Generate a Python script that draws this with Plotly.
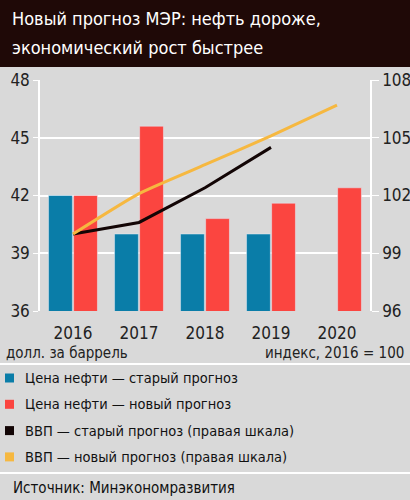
import plotly.graph_objects as go

# данные
years = ["2016", "2017", "2018", "2019", "2020"]
oil_old = [42.0, 40.0, 40.0, 40.0, None]
oil_new = [42.0, 45.6, 40.8, 41.6, 42.4]
gdp_old = [100.0, 100.6, 102.4, 104.5, None]
gdp_new = [100.0, 102.1, 103.6, 105.1, 106.7]

left_ticks = [36, 39, 42, 45, 48]
right_ticks = [96, 99, 102, 105, 108]

names = ["Цена нефти — старый прогноз", "Цена нефти — новый прогноз",
         "ВВП — старый прогноз (правая шкала)", "ВВП — новый прогноз (правая шкала)"]
title_lines = ["Новый прогноз МЭР: нефть дороже,", "экономический рост быстрее"]

blue = "#0a7da8"
red = "#fb4540"
black = "#120505"
yellow = "#f6b840"
bg = "#d9d9d9"
fnt = "Liberation Sans Narrow, DejaVu Sans Condensed, Roboto, sans-serif"

H = 231  # высота области графика в пикселях
def py(px):
    # пиксель по вертикали -> координата paper
    return (311 - px) / H

def px_x(px):
    return (px - 40) / 330

fig = go.Figure()
fig.add_trace(go.Bar(x=years, y=oil_old, marker_color=blue, name=names[0]))
fig.add_trace(go.Bar(x=years, y=oil_new, marker_color=red, name=names[1]))
fig.add_trace(go.Scatter(x=years, y=gdp_old, yaxis="y2", mode="lines", name=names[2],
                         line=dict(color=black, width=3)))
fig.add_trace(go.Scatter(x=years, y=gdp_new, yaxis="y2", mode="lines", name=names[3],
                         line=dict(color=yellow, width=3, shape="spline", smoothing=0.5)))

fig.update_layout(
    width=410, height=500,
    margin=dict(l=40, r=40, t=80, b=189, autoexpand=False),
    paper_bgcolor=bg, plot_bgcolor=bg,
    barmode="group", bargap=0.24, bargroupgap=0.05,
    font=dict(family=fnt, size=16, color="#222"),
    showlegend=False,
    xaxis=dict(showgrid=False, ticks="", tickfont=dict(size=17), zeroline=False,
               ticklabelstandoff=10),
    yaxis=dict(range=[36, 48], tickvals=left_ticks, gridcolor="white", gridwidth=1.5,
               showline=True, linecolor="white", linewidth=1.5,
               ticks="outside", tickcolor="white", ticklen=5, tickfont=dict(size=17),
               zeroline=False),
    yaxis2=dict(range=[96, 108], tickvals=right_ticks, overlaying="y", side="right",
                showgrid=False, showline=True, linecolor="white", linewidth=1.5,
                ticks="outside", tickcolor="white", ticklen=7, tickfont=dict(size=17),
                zeroline=False),
)

# шапка
fig.add_shape(type="rect", xref="paper", yref="paper", x0=px_x(-10), x1=px_x(420),
              y0=py(67), y1=py(-10), fillcolor="#1f0907", line_width=0, layer="above")
for t, yl in zip(title_lines, [19, 47]):
    fig.add_annotation(text=t, xref="paper", yref="paper", x=px_x(10), y=py(yl),
                       xanchor="left", yanchor="middle", showarrow=False,
                       font=dict(size=18, color="white", family=fnt))

# разделители
for ypx in [364, 473]:
    fig.add_shape(type="line", xref="paper", yref="paper", x0=px_x(-10), x1=px_x(420),
                  y0=py(ypx), y1=py(ypx), line=dict(color="white", width=2))

fig.add_annotation(text="долл. за баррель", xref="paper", yref="paper",
                   x=px_x(4), y=py(353), xanchor="left", yanchor="middle",
                   showarrow=False, font=dict(size=15))
fig.add_annotation(text="индекс, 2016 = 100", xref="paper", yref="paper",
                   x=px_x(406), y=py(353), xanchor="right", yanchor="middle",
                   showarrow=False, font=dict(size=15))

# легенда
for i, (n, c) in enumerate(zip(names, [blue, red, black, yellow])):
    yc = 378 + i * 26.3
    fig.add_shape(type="rect", xref="paper", yref="paper",
                  x0=px_x(5), x1=px_x(14), y0=py(yc + 4.5), y1=py(yc - 4.5),
                  fillcolor=c, line_width=0)
    fig.add_annotation(text=n, xref="paper", yref="paper", x=px_x(23), y=py(yc),
                       xanchor="left", yanchor="middle", showarrow=False,
                       font=dict(size=14.5, color="#111"))

fig.add_annotation(text="Источник: Минэкономразвития", xref="paper", yref="paper",
                   x=px_x(11), y=py(488), xanchor="left", yanchor="middle",
                   showarrow=False, font=dict(size=15, color="#111"))

# убираем отступ body и панель инструментов
fig.write_html("out.html", config={"displayModeBar": False},
               post_script="document.body.style.margin='0';")
